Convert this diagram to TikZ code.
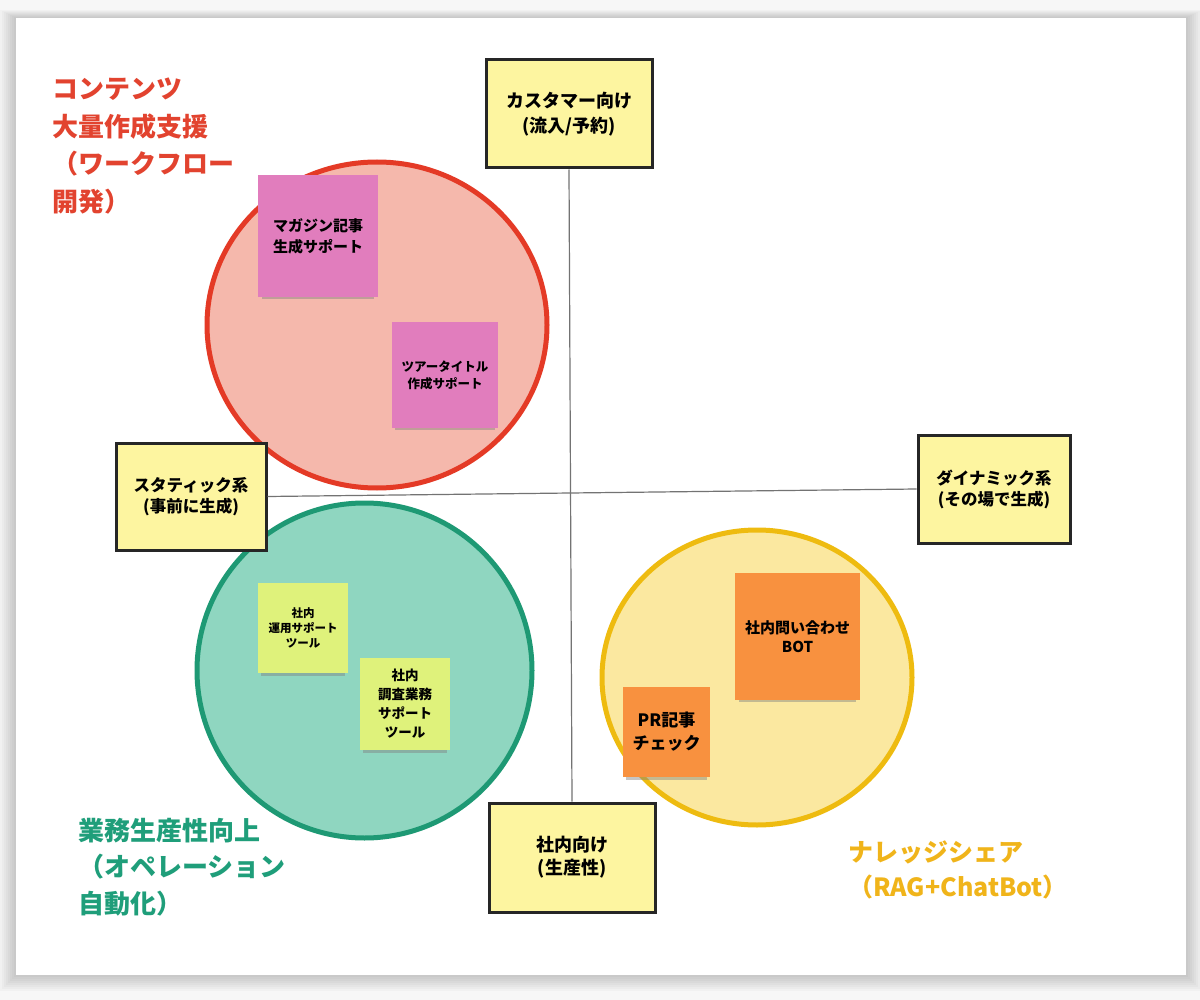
\documentclass[tikz,border=0pt]{standalone}
\usepackage{fontspec}
\setmainfont{Noto Sans CJK JP}
\usetikzlibrary{shadows}

\definecolor{boxyellow}{HTML}{FDF5A0}
\definecolor{redline}{HTML}{E43A26}
\definecolor{redfill}{HTML}{F5B8AC}
\definecolor{greenline}{HTML}{1E9974}
\definecolor{greenfill}{HTML}{8FD6C0}
\definecolor{yellowline}{HTML}{EEBB10}
\definecolor{yellowfill}{HTML}{FBE8A0}
\definecolor{pinknote}{HTML}{E17DBD}
\definecolor{limenote}{HTML}{DFF27B}
\definecolor{orangenote}{HTML}{F8913F}
\definecolor{redtext}{HTML}{E2432F}
\definecolor{greentext}{HTML}{1F9E7A}
\definecolor{yellowtext}{HTML}{F0B41A}

\newcommand{\jpfont}[2]{\bfseries\fontsize{#1}{#2}\selectfont}

\begin{document}
\begin{tikzpicture}[x=1pt,y=-1pt,
    axisbox/.style={draw=black!85,line width=3pt,fill=boxyellow,align=center,inner sep=0pt},
    note/.style={fill=#1,align=center,inner sep=0pt,
        drop shadow={opacity=0.45,shadow xshift=0pt,shadow yshift=-6pt,shadow scale=0.94}},
    grouplabel/.style={anchor=north west,align=left,inner sep=0pt,font=\jpfont{26}{37.5}}]
    \useasboundingbox (0,0) rectangle (1200,1000);
    \fill[black!3] (0,0) rectangle (1200,1000);
    \foreach \d in {2,4,...,16}
        \fill[black,opacity=0.025] (16-\d,18-\d/2) rectangle (1186+\d,975+\d);
    \fill[white] (16,18) rectangle (1186,975);

    \filldraw[fill=redfill,draw=redline,line width=5pt] (377,325) ellipse [x radius=170pt,y radius=163pt];
    \filldraw[fill=greenfill,draw=greenline,line width=5pt] (364.5,670.5) ellipse [x radius=167.5pt,y radius=167.5pt];
    \filldraw[fill=yellowfill,draw=yellowline,line width=5pt] (757,677.5) ellipse [x radius=155pt,y radius=147.5pt];

    \node[axisbox,minimum width=166pt,minimum height=108pt,font=\jpfont{18}{25}] (customer) at (569,114) {カスタマー向け\\(流入/予約)};
    \node[axisbox,minimum width=150pt,minimum height=107pt,font=\jpfont{16.5}{21}] (static) at (191,496.5) {スタティック系\\(事前に生成)};
    \node[axisbox,minimum width=152pt,minimum height=108pt,font=\jpfont{16.5}{21}] (dynamic) at (994,489) {ダイナミック系\\(その場で生成)};
    \node[axisbox,minimum width=166pt,minimum height=109pt,font=\jpfont{18}{23}] (internal) at (572,857.5) {社内向け\\(生産性)};

    \draw[black!55,line width=1.2pt] (customer.south) -- (internal.north);
    \draw[black!55,line width=1.2pt] (static.east) -- (dynamic.west);

    \node[note=pinknote,minimum width=120pt,minimum height=122pt,font=\jpfont{15}{21}] (magazine) at (318,236) {マガジン記事\\生成サポート};
    \node[note=pinknote,minimum width=106pt,minimum height=105pt,font=\jpfont{12.5}{17}] (tour) at (445,375) {ツアータイトル\\作成サポート};
    \node[note=limenote,minimum width=90pt,minimum height=90pt,font=\jpfont{11.5}{15}] (ops) at (303,628) {社内\\運用サポート\\ツール};
    \node[note=limenote,minimum width=90pt,minimum height=92pt,font=\jpfont{13.5}{19}] (research) at (405,704) {社内\\調査業務\\サポート\\ツール};
    \node[note=orangenote,minimum width=125pt,minimum height=127pt,font=\jpfont{15}{19}] (inquiry) at (797.5,636.5) {社内問い合わせ\\BOT};
    \node[note=orangenote,minimum width=87pt,minimum height=90pt,font=\jpfont{17}{23}] (prcheck) at (666.5,732) {PR記事\\チェック};

    \node[grouplabel,text=redtext] (contents) at (52,78) {コンテンツ\\大量作成支援\\（ワークフロー\\開発）};
    \node[grouplabel,text=greentext,font=\jpfont{26}{36.5}] (operation) at (78,818) {業務生産性向上\\（オペレーション\\自動化）};
    \node[grouplabel,text=yellowtext,font=\jpfont{25}{35}] (knowledge) at (848,841) {ナレッジシェア\\（RAG+ChatBot）};
\end{tikzpicture}
\end{document}
